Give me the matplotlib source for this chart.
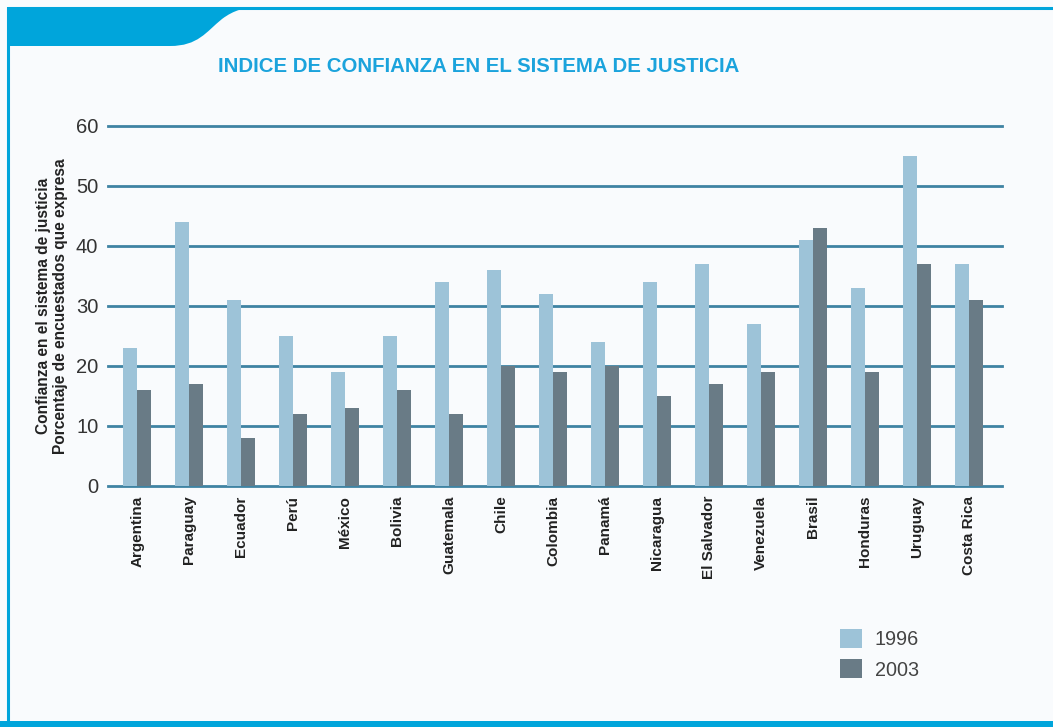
import matplotlib
matplotlib.use('Agg')
import matplotlib.pyplot as plt
import numpy as np
from matplotlib.patches import PathPatch, Rectangle
from matplotlib.path import Path

plt.rcParams['font.family'] = ['Liberation Sans', 'DejaVu Sans']

# datos
paises = ['Argentina', 'Paraguay', 'Ecuador', 'Perú', 'México', 'Bolivia',
          'Guatemala', 'Chile', 'Colombia', 'Panamá', 'Nicaragua',
          'El Salvador', 'Venezuela', 'Brasil', 'Honduras', 'Uruguay',
          'Costa Rica']
v1996 = [23, 44, 31, 25, 19, 25, 34, 36, 32, 24, 34, 37, 27, 41, 33, 55, 37]
v2003 = [16, 17, 8, 12, 13, 16, 12, 20, 19, 20, 15, 17, 19, 43, 19, 37, 31]
yticks = [0, 10, 20, 30, 40, 50, 60]

azul = '#00a5db'
claro = '#9dc3d8'
oscuro = '#697b86'
grid_col = '#3f83a3'

fig = plt.figure(figsize=(10.53, 7.27), dpi=100)
fig.patch.set_facecolor('#f9fbfd')

# marco y pestaña azul (coordenadas en pixeles)
bg = fig.add_axes([0, 0, 1, 1], zorder=-1)
bg.set_xlim(0, 1053)
bg.set_ylim(727, 0)
bg.axis('off')
bg.plot([8, 8], [7, 722], color=azul, lw=2.2, solid_capstyle='butt')
bg.plot([8, 1053], [7.5, 7.5], color=azul, lw=2.2, solid_capstyle='butt')
bg.add_patch(Rectangle((0, 721), 1053, 6, color=azul, lw=0))
verts = [(7, 7), (7, 46), (170, 46),
         (198, 46), (206, 32), (222, 19),
         (234, 10), (245, 7), (262, 7),
         (7, 7)]
codes = [Path.MOVETO, Path.LINETO, Path.LINETO,
         Path.CURVE4, Path.CURVE4, Path.CURVE4,
         Path.CURVE4, Path.CURVE4, Path.CURVE4,
         Path.CLOSEPOLY]
bg.add_patch(PathPatch(Path(verts, codes), facecolor=azul, edgecolor='none'))

ax = fig.add_axes([0.1026, 0.3315, 0.849, 0.4952])
ax.set_facecolor('none')
for s in ax.spines.values():
    s.set_visible(False)

x = np.arange(len(paises))
w = 0.27
for t in yticks:
    ax.axhline(t, color=grid_col, lw=2, zorder=0, clip_on=False)
b1 = ax.bar(x - w / 2, v1996, w, color=claro, label='1996', zorder=2)
b2 = ax.bar(x + w / 2, v2003, w, color=oscuro, label='2003', zorder=2)

ax.set_xlim(-0.56, 16.63)
ax.set_ylim(0, 60)
ax.set_yticks(yticks)
ax.set_xticks(x)
ax.set_xticklabels(paises, rotation=90, fontsize=11, fontweight='bold',
                   color='#222222')
ax.tick_params(axis='x', length=0, pad=7)
ax.tick_params(axis='y', length=0, pad=7, labelsize=14.5, labelcolor='#333333')

fig.text(52 / 1053, 1 - 306 / 727,
         'Confianza en el sistema de justicia\nPorcentaje de encuestados que expresa',
         rotation=90, ha='center', va='center', ma='center', fontsize=11.2,
         fontweight='bold', color='#222222', linespacing=1.2)

fig.text(479 / 1053, 1 - 66 / 727, 'INDICE DE CONFIANZA EN EL SISTEMA DE JUSTICIA',
         ha='center', va='center', fontsize=14.7, fontweight='bold', color='#1ba3dc')

fig.legend(handles=[b1, b2], loc='upper left',
           bbox_to_anchor=(840 / 1053, 1 - 629 / 727), frameon=False,
           fontsize=14.3, handlelength=1.1, handleheight=1.1, handletextpad=0.65,
           labelspacing=0.5, borderpad=0, borderaxespad=0, labelcolor='#444444')

fig.savefig('out.png', dpi=100, facecolor=fig.get_facecolor())
